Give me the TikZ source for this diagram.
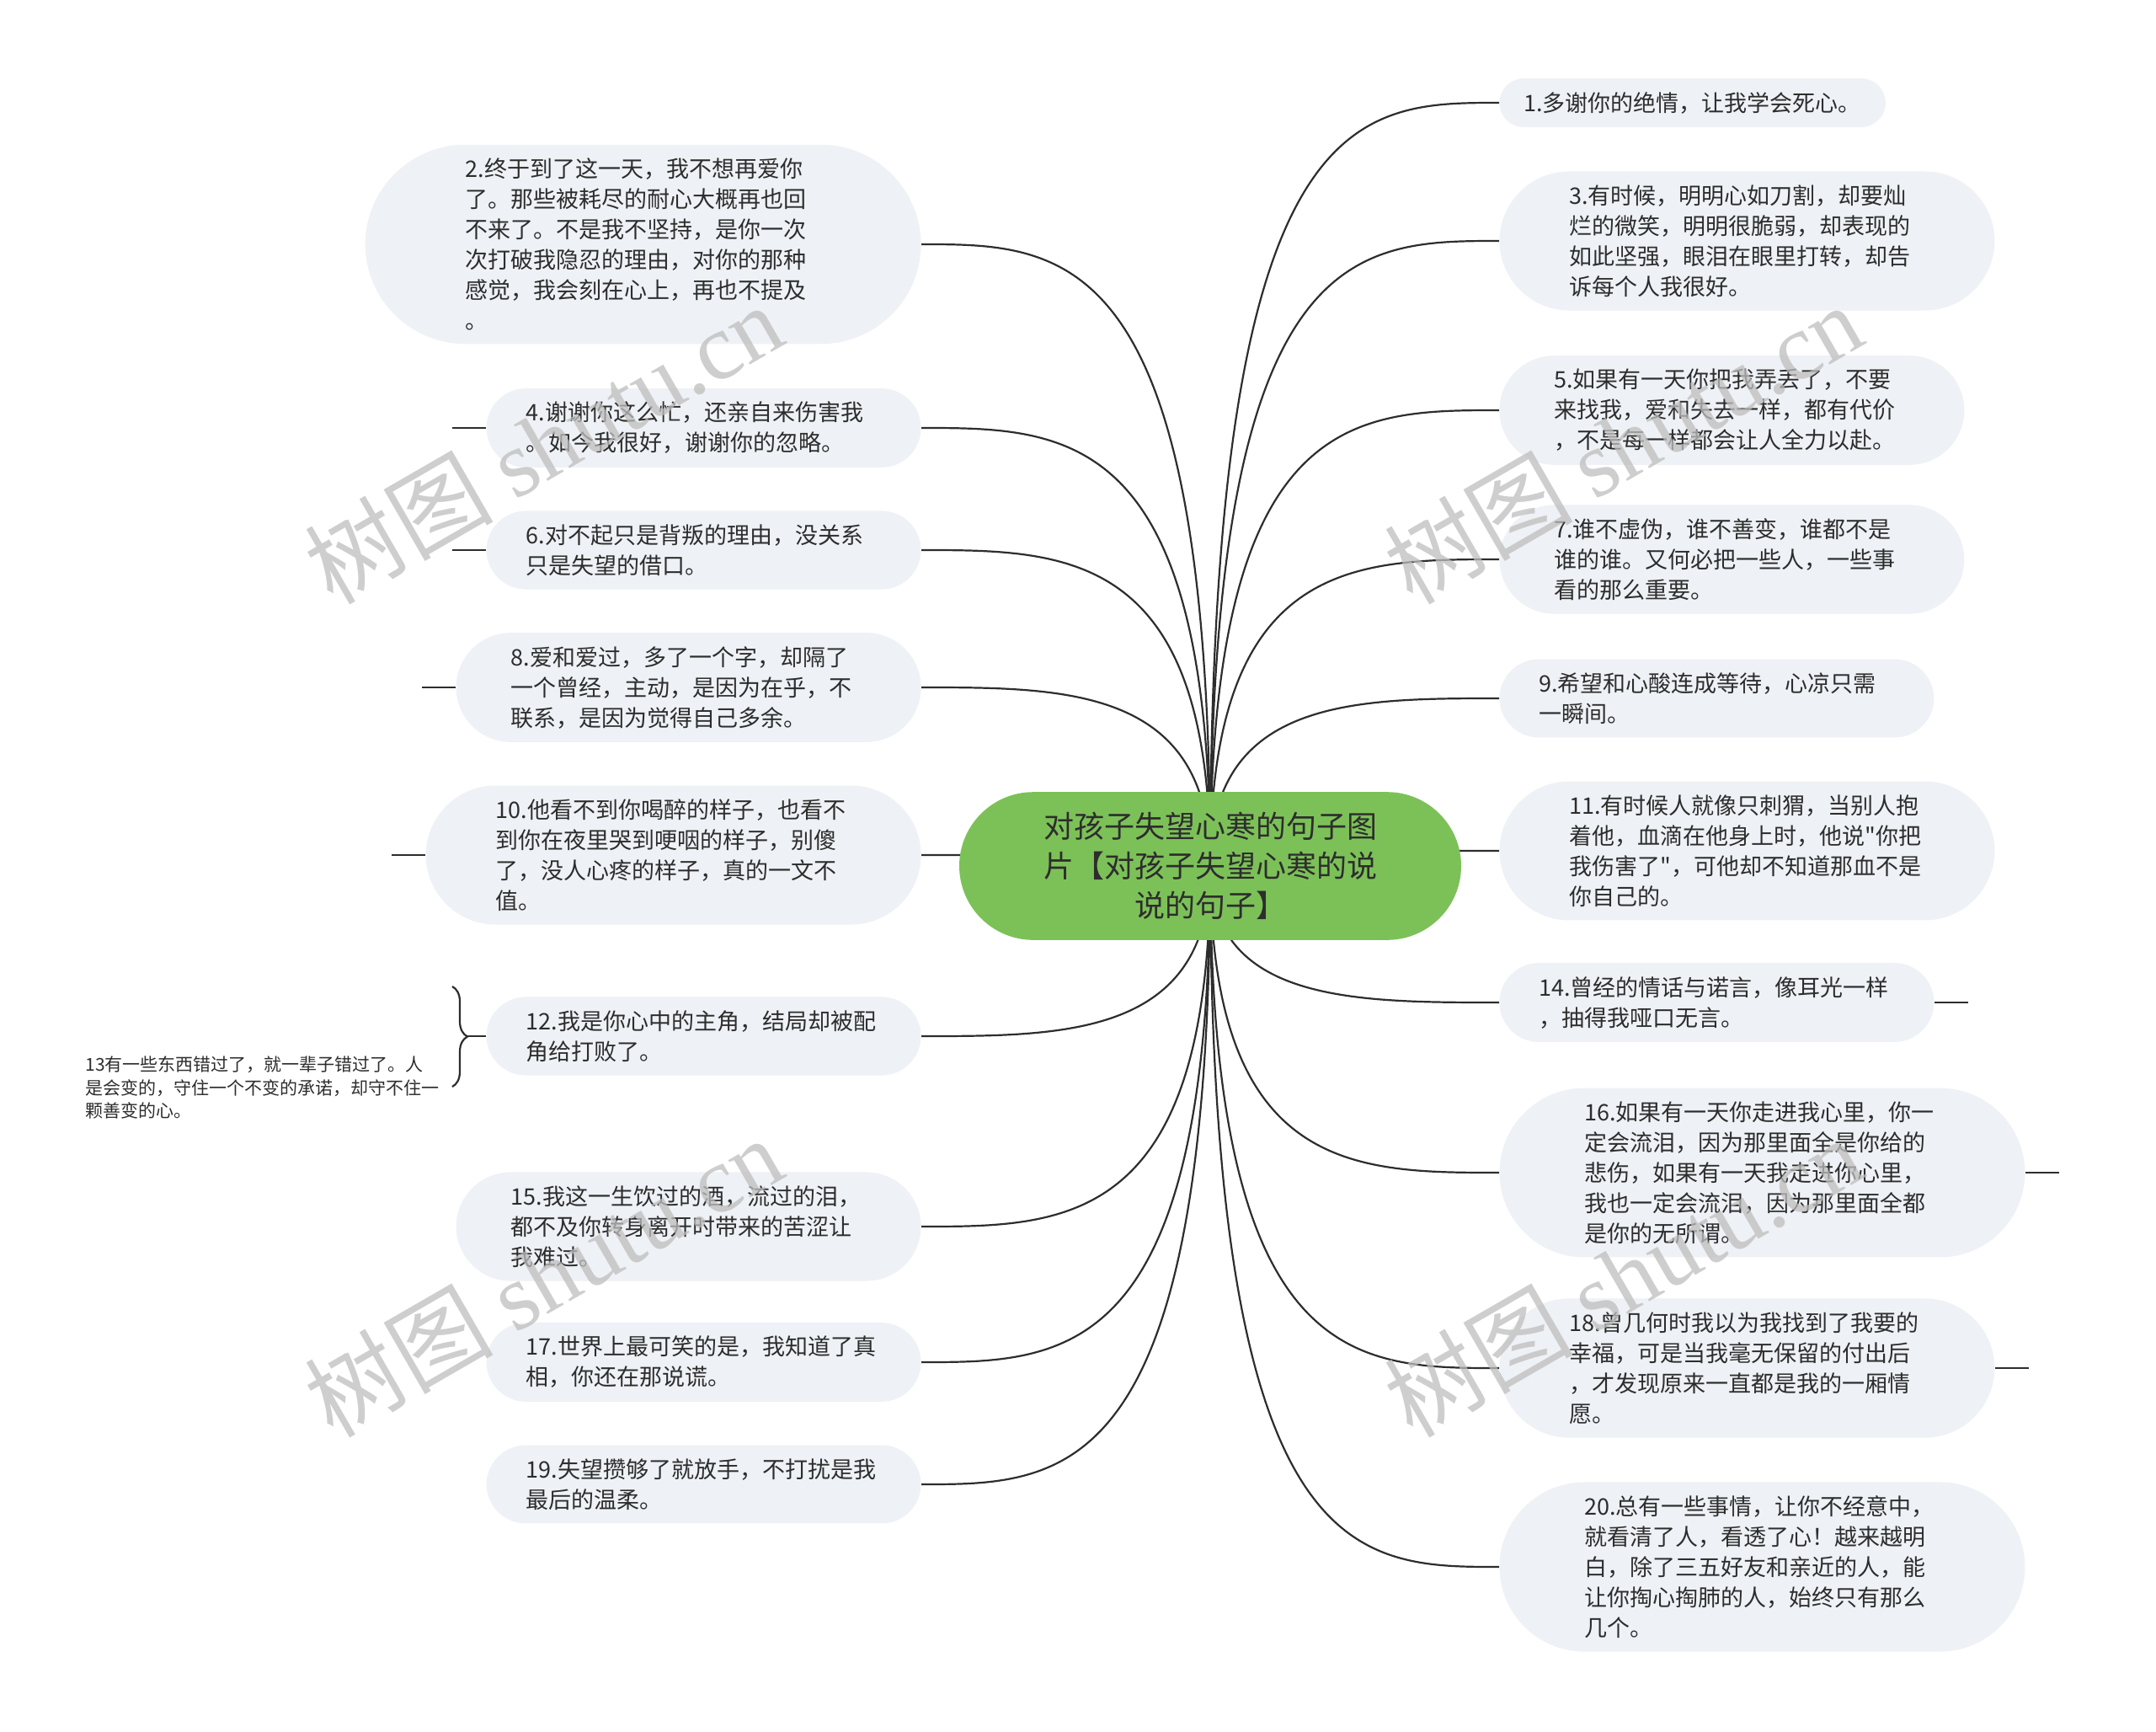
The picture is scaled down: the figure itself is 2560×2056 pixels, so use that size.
\documentclass[tikz,border=0pt]{standalone}
\usepackage{fontspec}
\setmainfont{Noto Sans CJK SC}
\newfontfamily\qtfont{Noto Sans CJK SC}
\newfontfamily\wmfont{Liberation Serif}
\usepackage{tikz}
\usetikzlibrary{positioning,calc,backgrounds,decorations.pathreplacing}
\definecolor{hubgreen}{RGB}{124,193,88}
\definecolor{leaffill}{RGB}{238,241,245}
\definecolor{inkgray}{RGB}{45,45,45}
\definecolor{wmgray}{RGB}{190,190,190}

\begin{document}
\begin{tikzpicture}[
  x=0.5pt,y=-0.5pt,
  hub/.style={rectangle,rounded corners=44pt,fill=hubgreen,text=inkgray,
    inner xsep=50pt,inner ysep=12pt,align=center,
    font=\fontsize{18pt}{23.5pt}\selectfont},
  leaf/.style={rectangle,rounded corners=#1,fill=leaffill,text=inkgray,
    inner xsep=#1,inner ysep=8pt,align=left,
    font=\fontsize{13.5pt}{18pt}\selectfont},
  wide/.style={text width=211pt},
  note/.style={inner sep=0pt,align=left,text=inkgray,
    font=\fontsize{10.5pt}{13.8pt}\selectfont},
  br/.style={draw=inkgray,line width=1.1pt},
  twig/.style={br,to path={.. controls (\tikztostart |- \tikztotarget)
    and ($(\tikztostart |- \tikztotarget)!0.5!(\tikztotarget)$) .. (\tikztotarget)}},
  wm/.style={text=wmgray,opacity=0.75,rotate=30,
    font=\fontsize{56pt}{60pt}\selectfont}
]
\useasboundingbox (0,0) rectangle (2560,2056);

\node[hub] (root) at (1437,1028){对孩子失望心寒的句子图\\片【对孩子失望心寒的说\\说的句子】};

\node[leaf=14.5pt,anchor=west]      (r1)  at (1780,122) {1.多谢你的绝情，让我学会死心。};
\node[leaf=41.5pt,wide,anchor=west] (r3)  at (1780,286) {3.有时候，明明心如刀割，却要灿\\烂的微笑，明明很脆弱，却表现的\\如此坚强，眼泪在眼里打转，却告\\诉每个人我很好。};
\node[leaf=32.5pt,wide,anchor=west] (r5)  at (1780,487) {5.如果有一天你把我弄丢了，不要\\来找我，爱和失去一样，都有代价\\，不是每一样都会让人全力以赴。};
\node[leaf=32.5pt,wide,anchor=west] (r7)  at (1780,664) {7.谁不虚伪，谁不善变，谁都不是\\谁的谁。又何必把一些人，一些事\\看的那么重要。};
\node[leaf=23.5pt,wide,anchor=west] (r9)  at (1780,829) {9.希望和心酸连成等待，心凉只需\\一瞬间。};
\node[leaf=41.5pt,wide,anchor=west] (r11) at (1780,1010){11.有时候人就像只刺猬，当别人抱\\着他，血滴在他身上时，他说{\qtfont"}你把\\我伤害了{\qtfont"}，可他却不知道那血不是\\你自己的。};
\node[leaf=23.5pt,wide,anchor=west] (r14) at (1780,1190){14.曾经的情话与诺言，像耳光一样\\，抽得我哑口无言。};
\node[leaf=50.5pt,wide,anchor=west] (r16) at (1780,1392){16.如果有一天你走进我心里，你一\\定会流泪，因为那里面全是你给的\\悲伤，如果有一天我走进你心里，\\我也一定会流泪，因为那里面全都\\是你的无所谓。};
\node[leaf=41.5pt,wide,anchor=west] (r18) at (1780,1624){18.曾几何时我以为我找到了我要的\\幸福，可是当我毫无保留的付出后\\，才发现原来一直都是我的一厢情\\愿。};
\node[leaf=50.5pt,wide,anchor=west] (r20) at (1780,1860){20.总有一些事情，让你不经意中，\\就看清了人，看透了心！越来越明\\白，除了三五好友和亲近的人，能\\让你掏心掏肺的人，始终只有那么\\几个。};

\node[leaf=59.5pt,wide,anchor=east] (l2)  at (1094,290) {2.终于到了这一天，我不想再爱你\\了。那些被耗尽的耐心大概再也回\\不来了。不是我不坚持，是你一次\\次打破我隐忍的理由，对你的那种\\感觉，我会刻在心上，再也不提及\\。};
\node[leaf=23.5pt,wide,anchor=east] (l4)  at (1094,508) {4.谢谢你这么忙，还亲自来伤害我\\。如今我很好，谢谢你的忽略。};
\node[leaf=23.5pt,wide,anchor=east] (l6)  at (1094,653) {6.对不起只是背叛的理由，没关系\\只是失望的借口。};
\node[leaf=32.5pt,wide,anchor=east] (l8)  at (1094,816) {8.爱和爱过，多了一个字，却隔了\\一个曾经，主动，是因为在乎，不\\联系，是因为觉得自己多余。};
\node[leaf=41.5pt,wide,anchor=east] (l10) at (1094,1015){10.他看不到你喝醉的样子，也看不\\到你在夜里哭到哽咽的样子，别傻\\了，没人心疼的样子，真的一文不\\值。};
\node[leaf=23.5pt,wide,anchor=east] (l12) at (1094,1230){12.我是你心中的主角，结局却被配\\角给打败了。};
\node[leaf=32.5pt,wide,anchor=east] (l15) at (1094,1456){15.我这一生饮过的酒，流过的泪，\\都不及你转身离开时带来的苦涩让\\我难过。};
\node[leaf=23.5pt,wide,anchor=east] (l17) at (1094,1617){17.世界上最可笑的是，我知道了真\\相，你还在那说谎。};
\node[leaf=23.5pt,wide,anchor=east] (l19) at (1094,1762){19.失望攒够了就放手，不打扰是我\\最后的温柔。};

\node[note,anchor=west] (l13) at (101,1291){13有一些东西错过了，就一辈子错过了。人\\是会变的，守住一个不变的承诺，却守不住一\\颗善变的心。};

\coordinate[left=20pt of l4.west]   (l4x);
\coordinate[left=20pt of l6.west]   (l6x);
\coordinate[left=20pt of l8.west]   (l8x);
\coordinate[left=20pt of l10.west]  (l10x);
\coordinate[right=20pt of r14.east] (r14x);
\coordinate[right=20pt of r16.east] (r16x);
\coordinate[right=20pt of r18.east] (r18x);
\coordinate (l12x) at (555,1230);
\coordinate (l12t) at (537,1171);
\coordinate (l12b) at (537,1290);

\begin{scope}[on background layer]
\fill[white] (0,0) rectangle (2560,2056);
\draw[twig] (root.center) to (r1.west);  \draw[twig] (root.center) to (r3.west);
\draw[twig] (root.center) to (r5.west);  \draw[twig] (root.center) to (r7.west);
\draw[twig] (root.center) to (r9.west);  \draw[twig] (root.center) to (r11.west);
\draw[twig] (root.center) to (r14.west); \draw[twig] (root.center) to (r16.west);
\draw[twig] (root.center) to (r18.west); \draw[twig] (root.center) to (r20.west);
\draw[twig] (root.center) to (l2.east);  \draw[twig] (root.center) to (l4.east);
\draw[twig] (root.center) to (l6.east);  \draw[twig] (root.center) to (l8.east);
\draw[twig] (root.center) to (l10.east); \draw[twig] (root.center) to (l12.east);
\draw[twig] (root.center) to (l15.east); \draw[twig] (root.center) to (l17.east);
\draw[twig] (root.center) to (l19.east);
\end{scope}

\draw[br] (l4.west)--(l4x);   \draw[br] (l6.west)--(l6x);
\draw[br] (l8.west)--(l8x);   \draw[br] (l10.west)--(l10x);
\draw[br] (r14.east)--(r14x); \draw[br] (r16.east)--(r16x);
\draw[br] (r18.east)--(r18x);
\draw[br] (l12.west)--(l12x);
\draw[br,decorate,decoration={brace,amplitude=9pt}] (l12t)--(l12b);

\node[wm] (wm1) at (645,526)  {树图 {\wmfont shutu.cn}};
\node[wm] (wm2) at (1927,526) {树图 {\wmfont shutu.cn}};
\node[wm] (wm3) at (645,1515) {树图 {\wmfont shutu.cn}};
\node[wm] (wm4) at (1927,1515){树图 {\wmfont shutu.cn}};
\end{tikzpicture}
\end{document}
